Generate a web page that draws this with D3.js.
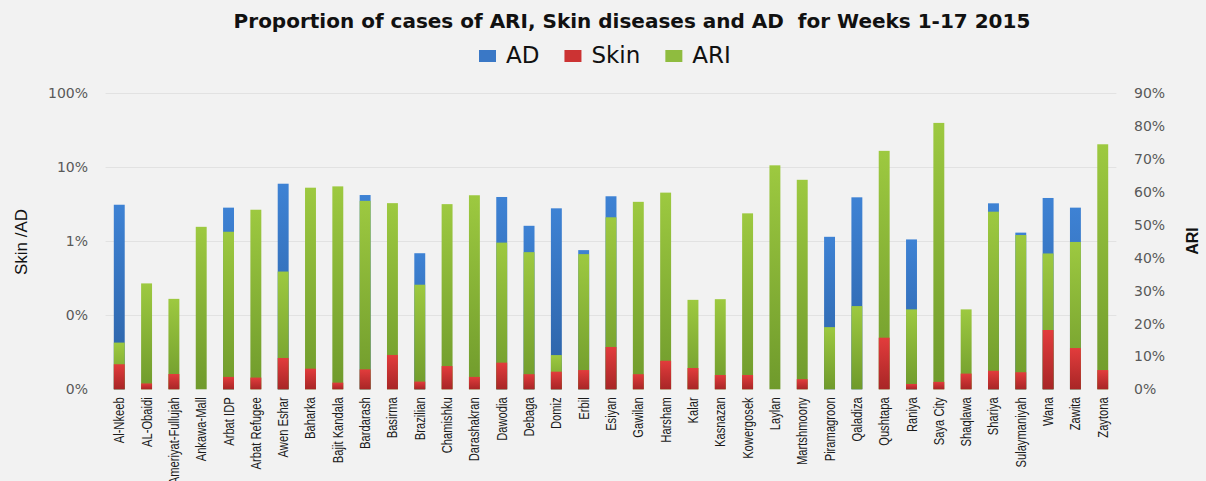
<!DOCTYPE html>
<html>
<head>
<meta charset="utf-8">
<script src="https://cdn.jsdelivr.net/npm/d3@7"></script>
<style>
  html, body { margin: 0; padding: 0; background: #f2f2f2; }
  svg { display: block; }
</style>
</head>
<body>
<svg id="chart" width="1206" height="481"></svg>
<script>
// ---------------- DATA ----------------
const categories = ["Al-Nkeeb","AL-Obaidi","Ameriyat-Fullujah","Ankawa-Mall","Arbat IDP","Arbat Refugee","Awen Eshar","Baharka","Bajit Kandala","Bardarash","Basirma","Brazilian","Chamishku","Darashakran","Dawodia","Debaga","Domiz","Erbil","Esiyan","Gawilan","Harsham","Kalar","Kasnazan","Kowergosek","Laylan","Martshmoony","Piramagroon","Qaladiza","Qushtapa","Raniya","Saya City","Shaqlawa","Shariya","Sulaymaniyah","Wana","Zawita","Zaytona"];

// AD proportion (%), left log axis; null where hidden behind ARI bar
const adValues = [3.12,null,null,null,2.85,null,6.0,null,null,4.22,null,0.69,null,null,3.97,1.62,2.79,0.76,4.06,null,null,null,null,null,null,null,1.15,3.93,null,1.06,null,null,3.26,1.31,3.85,2.85,null];

// Skin proportion (%), left log axis; null where no bar
const skinValues = [0.0218,0.0120,0.0161,null,0.0147,0.0144,0.0265,0.0190,0.0123,0.0186,0.0291,0.0127,0.0206,0.0147,0.0229,0.0160,0.0173,0.0182,0.0373,0.0160,0.0243,0.0194,0.0156,0.0156,null,0.0137,null,null,0.0498,0.0118,0.0126,0.0163,0.0178,0.0170,0.0633,0.0361,0.0182];

// ARI proportion (%), right linear axis
const ariValues = [14.2,32.2,27.5,49.4,47.9,54.6,35.8,61.3,61.7,57.3,56.6,31.8,56.3,59.0,44.6,41.7,10.4,41.1,52.3,57.0,59.8,27.2,27.4,53.5,68.1,63.7,18.9,25.3,72.5,24.3,81.0,24.3,54.0,46.9,41.3,44.8,74.5];

const leftTicks = [0.01, 0.1, 1, 10, 100];
const leftTickLabels = ["0%", "0%", "1%", "10%", "100%"];
const rightTicks = [0,10,20,30,40,50,60,70,80,90];

const seriesNames = ["AD", "Skin", "ARI"];
const titleText = "Proportion of cases of ARI, Skin diseases and AD  for Weeks 1-17 2015";

// ---------------- LAYOUT ----------------
const svg = d3.select("#chart");
const W = 1206, H = 481;
const plot = { left: 105.6, right: 1116.4, top: 93.3, bottom: 389.3 };
const colors = {
  AD: ["#3e82d4", "#2b60a3"],
  Skin: ["#e23c3c", "#a82626"],
  ARI: ["#9dc940", "#6f9a2c"]
};
const legendColors = { AD: "#3a78c6", Skin: "#cc3333", ARI: "#8fbc3f" };

svg.append("rect").attr("width", W).attr("height", H).attr("fill", "#f2f2f2");

const defs = svg.append("defs");
Object.keys(colors).forEach(k => {
  const g = defs.append("linearGradient").attr("id", "grad-" + k)
    .attr("x1", 0).attr("y1", 0).attr("x2", 0).attr("y2", 1);
  g.append("stop").attr("offset", "0%").attr("stop-color", colors[k][0]);
  g.append("stop").attr("offset", "100%").attr("stop-color", colors[k][1]);
});

const x = d3.scaleBand().domain(categories).range([plot.left, plot.right])
  .paddingInner(0.6).paddingOuter(0.3);
const yL = d3.scaleLog().domain([0.01, 100]).range([plot.bottom, plot.top]);
const yR = d3.scaleLinear().domain([0, 90]).range([plot.bottom, plot.top]);

// gridlines (left axis ticks)
svg.append("g").selectAll("line").data(leftTicks.slice(1)).join("line")
  .attr("x1", plot.left).attr("x2", plot.right)
  .attr("y1", d => Math.round(yL(d)) + 0.5).attr("y2", d => Math.round(yL(d)) + 0.5)
  .attr("stroke", "#e2e2e2").attr("stroke-width", 1);

// left axis
const axL = d3.axisLeft(yL).tickValues(leftTicks)
  .tickFormat((d, i) => leftTickLabels[i]).tickSize(0).tickPadding(0);
const gL = svg.append("g").attr("transform", "translate(88,0)").call(axL);
gL.select(".domain").remove();
gL.selectAll("text").attr("font-family", "DejaVu Sans, Verdana, sans-serif")
  .attr("font-size", 14).attr("fill", "#595959");

// right axis
const axR = d3.axisRight(yR).tickValues(rightTicks)
  .tickFormat(d => d + "%").tickSize(0).tickPadding(0);
const gR = svg.append("g").attr("transform", "translate(1134,0)").call(axR);
gR.select(".domain").remove();
gR.selectAll("text").attr("font-family", "DejaVu Sans, Verdana, sans-serif")
  .attr("font-size", 14).attr("fill", "#595959");

// bars: AD (back), ARI (middle), Skin (front)
const bw = x.bandwidth();
svg.append("g").selectAll("rect").data(categories.map((c, i) => ({ c, v: adValues[i] })).filter(d => d.v != null))
  .join("rect")
  .attr("x", d => x(d.c)).attr("width", bw)
  .attr("y", d => yL(d.v)).attr("height", d => plot.bottom - yL(d.v))
  .attr("fill", "url(#grad-AD)");

svg.append("g").selectAll("rect").data(categories.map((c, i) => ({ c, v: ariValues[i] })).filter(d => d.v != null))
  .join("rect")
  .attr("x", d => x(d.c)).attr("width", bw)
  .attr("y", d => yR(d.v)).attr("height", d => plot.bottom - yR(d.v))
  .attr("fill", "url(#grad-ARI)");

svg.append("g").selectAll("rect").data(categories.map((c, i) => ({ c, v: skinValues[i] })).filter(d => d.v != null))
  .join("rect")
  .attr("x", d => x(d.c)).attr("width", bw)
  .attr("y", d => yL(d.v)).attr("height", d => plot.bottom - yL(d.v))
  .attr("fill", "url(#grad-Skin)");

// category axis labels (narrow, rotated)
const axB = d3.axisBottom(x).tickSize(0).tickPadding(0);
const gB = svg.append("g").attr("transform", `translate(0,${plot.bottom})`).call(axB);
gB.select(".domain").remove();
gB.selectAll("text")
  .attr("font-family", "'Liberation Sans', Arial, sans-serif")
  .attr("font-size", 14).attr("fill", "#1a1a1a")
  .attr("text-anchor", "end")
  .attr("dy", null).attr("y", null)
  .attr("transform", "translate(5,8) rotate(-90) scale(0.8,1)");

// axis titles
svg.append("text").attr("transform", "translate(27,242) rotate(-90)")
  .attr("text-anchor", "middle").attr("font-family", "'Liberation Sans', Arial, sans-serif")
  .attr("font-size", 17).attr("fill", "#111").text("Skin /AD");
svg.append("text").attr("transform", "translate(1198,241) rotate(-90)")
  .attr("text-anchor", "middle").attr("font-family", "'Liberation Sans', Arial, sans-serif")
  .attr("font-weight", "bold").attr("font-size", 16).attr("fill", "#111").text("ARI");

// title
svg.append("text").attr("x", 632).attr("y", 28).attr("text-anchor", "middle")
  .attr("font-family", "'DejaVu Sans', Verdana, sans-serif").attr("font-weight", "bold")
  .attr("font-size", 20).attr("fill", "#111").attr("xml:space", "preserve")
  .style("white-space", "pre").text(titleText);

// legend
const leg = svg.append("g");
let lx = 479;
seriesNames.forEach(n => {
  leg.append("rect").attr("x", lx).attr("y", 50).attr("width", 17).attr("height", 12)
    .attr("fill", legendColors[n]);
  const t = leg.append("text").attr("x", lx + 27).attr("y", 63)
    .attr("font-family", "'DejaVu Sans', Verdana, sans-serif").attr("font-size", 23)
    .attr("fill", "#111").text(n);
  lx = lx + 27 + t.node().getComputedTextLength() + 25;
});
</script>
</body>
</html>
